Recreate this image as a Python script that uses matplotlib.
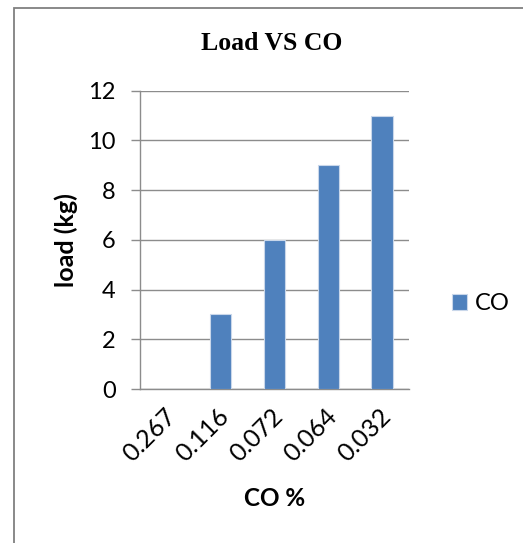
import numpy as np
import matplotlib
matplotlib.use('Agg')
import matplotlib.pyplot as plt
from matplotlib.patches import Rectangle
from matplotlib.transforms import ScaledTranslation

# data
co_pct = ['0.267', '0.116', '0.072', '0.064', '0.032']
load_kg = [0, 3, 6, 9, 11]
y_ticks = [0, 2, 4, 6, 8, 10, 12]

bar_col = '#4F81BD'
grid_col = '#8c8c8c'

plt.rcParams['font.family'] = ['Lato', 'DejaVu Sans']

fig = plt.figure(figsize=(5.23, 5.43), dpi=100)
ax = fig.add_axes([140/523, 1 - 389/543, 269/523, 298.3/543])

x = np.arange(len(co_pct))
ax.bar(x, load_kg, width=0.4, color=bar_col, edgecolor='#c9d7ea', linewidth=0.8, label='CO', zorder=3)

ax.set_xlim(-0.5, len(co_pct) - 0.5)
ax.set_ylim(0, 12)
ax.set_yticks(y_ticks)
ax.set_yticklabels([str(v) for v in y_ticks], fontsize=17)
ax.yaxis.grid(True, color=grid_col, linewidth=1.0, zorder=0)

ax.set_xticks(x)
ax.set_xticklabels(co_pct, fontsize=18, rotation=45, ha='right', va='center',
                   rotation_mode='anchor')
ax.tick_params(axis='x', length=0, pad=17)
ax.tick_params(axis='y', length=6.5, width=1.0, color=grid_col, pad=11)
# nudge the slanted labels a little to the right, like the original
shift = ScaledTranslation(0.05, 0, fig.dpi_scale_trans)
for lab in ax.get_xticklabels():
    lab.set_transform(lab.get_transform() + shift)

for s in ['top', 'right']:
    ax.spines[s].set_visible(False)
for s in ['left', 'bottom']:
    ax.spines[s].set_color(grid_col)
    ax.spines[s].set_linewidth(1.0)

fig.text(272/523, 1 - 43/543, 'Load VS CO', ha='center', va='center',
         fontsize=18.5, fontweight='bold', family='Liberation Serif')
fig.text(66/523, 1 - 240/543, 'load (kg)', ha='center', va='center',
         rotation=90, fontsize=18, fontweight='bold')
fig.text(275/523, 1 - 498/543, 'CO %', ha='center', va='center',
         fontsize=17.5, fontweight='bold')

# legend
fig.legend(loc='center left', bbox_to_anchor=(431/523, 1 - 304/543), frameon=False,
           fontsize=17, handlelength=0.64, handleheight=0.64, handletextpad=0.3)

# outer border of the chart box
fig.patches.append(Rectangle((14/523, -0.05), 1.0, 1 - 7.5/543 + 0.05,
                             transform=fig.transFigure, fill=False,
                             edgecolor='#808080', linewidth=1.3))

fig.savefig('out.png', dpi=100)
